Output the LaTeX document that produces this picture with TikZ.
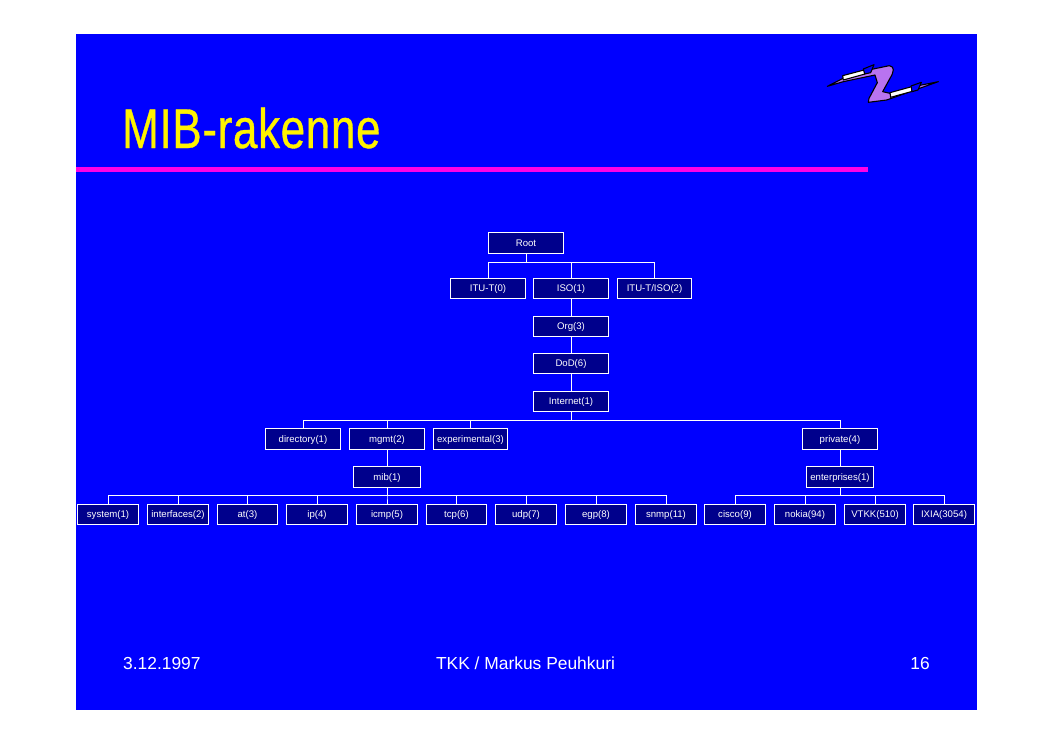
\documentclass[tikz,border=0pt]{standalone}
\usepackage{fontspec}
\setmainfont{Liberation Sans}
\newfontfamily\titlefont[FakeStretch=0.785,FakeBold=0.6,LetterSpace=1.2]{Liberation Sans}
\definecolor{slideblue}{RGB}{0,0,255}
\definecolor{boxblue}{RGB}{0,0,140}
\definecolor{rulepink}{RGB}{255,0,230}
\definecolor{logopurple}{RGB}{185,115,240}
\tikzset{
	mibbox/.style={draw=white, line width=0.9pt, fill=boxblue, text=white, font=\fontsize{9.6}{11}\selectfont, minimum height=20.5pt, inner sep=0pt, text height=8pt, text depth=2pt},
	widebox/.style={mibbox, minimum width=74.5pt},
	leafbox/.style={mibbox, minimum width=60.5pt},
	midbox/.style={mibbox, minimum width=66.5pt},
	mibline/.style={draw=white, line width=0.9pt},
	footer/.style={text=white, font=\fontsize{17.4}{20}\selectfont, inner sep=0pt},
}
\begin{document}
\begin{tikzpicture}[x=1pt, y=-1pt]
	\useasboundingbox (0,0) rectangle (1053,744);

	% Slide
	\fill[slideblue] (76,34) rectangle (977,710);
	\fill[rulepink] (76,167) rectangle (868,172);
	\node[text=yellow, font=\titlefont\fontsize{56}{60}\selectfont, anchor=base west, inner sep=0pt] (title) at (122,148) {MIB-rakenne};

	% Logo
	\begin{scope}[shift={(800,40)}, scale=1/3, line width=1.1pt, line join=round]
		\draw[fill=logopurple] (82,139) -- (135,112) -- (215,88) -- (268,77) .. controls (285,80) and (282,95) .. (270,115) -- (248,155) -- (270,160) -- (365,135) -- (415,125) -- (260,180) -- (205,187) -- (207,175) -- (232,128) -- (225,105) -- (130,125) -- cycle;
		\draw[fill=white] (128,107) -- (192,90) -- (195,102) -- (130,120) -- cycle;
		\draw[fill=slideblue] (190,87) -- (222,74) -- (212,98) -- (194,102) -- cycle;
		\draw[fill=white] (270,158) -- (335,140) -- (337,154) -- (272,172) -- cycle;
		\draw[fill=slideblue] (333,138) -- (364,127) -- (354,150) -- (336,155) -- cycle;
	\end{scope}

	% Root
	\node[widebox] (root) at (526,243) {Root};

	% Top level
	\node[widebox] (itut) at (488,288.5) {ITU-T(0)};
	\node[widebox] (iso) at (571,288.5) {ISO(1)};
	\node[widebox] (ituiso) at (654.5,288.5) {ITU-T/ISO(2)};
	\draw[mibline] (root.south) -- ++(0,9) -| (itut.north);
	\draw[mibline] (root.south) -- ++(0,9) -| (iso.north);
	\draw[mibline] (root.south) -- ++(0,9) -| (ituiso.north);

	% Org, DoD, Internet
	\node[widebox] (org) at (571,326.5) {Org(3)};
	\node[widebox] (dod) at (571,363.5) {DoD(6)};
	\node[widebox] (internet) at (571,401.5) {Internet(1)};
	\draw[mibline] (iso) -- (org);
	\draw[mibline] (org) -- (dod);
	\draw[mibline] (dod) -- (internet);

	% Internet subtree
	\node[widebox] (directory) at (303,439) {directory(1)};
	\node[widebox] (mgmt) at (387,439) {mgmt(2)};
	\node[widebox] (experimental) at (470.5,439) {experimental(3)};
	\node[widebox] (private) at (840,439) {private(4)};
	\draw[mibline] (internet.south) -- ++(0,8) -| (directory.north);
	\draw[mibline] (internet.south) -- ++(0,8) -| (mgmt.north);
	\draw[mibline] (internet.south) -- ++(0,8) -| (experimental.north);
	\draw[mibline] (internet.south) -- ++(0,8) -| (private.north);

	% mib and enterprises
	\node[midbox] (mib) at (387,477) {mib(1)};
	\node[midbox] (enterprises) at (840,477) {enterprises(1)};
	\draw[mibline] (mgmt) -- (mib);
	\draw[mibline] (private) -- (enterprises);

	% mib objects
	\node[leafbox] (system) at (108,514.5) {system(1)};
	\node[leafbox] (interfaces) at (178,514.5) {interfaces(2)};
	\node[leafbox] (at) at (247.5,514.5) {at(3)};
	\node[leafbox] (ip) at (317,514.5) {ip(4)};
	\node[leafbox] (icmp) at (387,514.5) {icmp(5)};
	\node[leafbox] (tcp) at (456.5,514.5) {tcp(6)};
	\node[leafbox] (udp) at (526,514.5) {udp(7)};
	\node[leafbox] (egp) at (596,514.5) {egp(8)};
	\node[leafbox] (snmp) at (666,514.5) {snmp(11)};
	\draw[mibline] (mib.south) -- ++(0,7.5) -| (system.north);
	\draw[mibline] (mib.south) -- ++(0,7.5) -| (interfaces.north);
	\draw[mibline] (mib.south) -- ++(0,7.5) -| (at.north);
	\draw[mibline] (mib.south) -- ++(0,7.5) -| (ip.north);
	\draw[mibline] (mib.south) -- ++(0,7.5) -| (icmp.north);
	\draw[mibline] (mib.south) -- ++(0,7.5) -| (tcp.north);
	\draw[mibline] (mib.south) -- ++(0,7.5) -| (udp.north);
	\draw[mibline] (mib.south) -- ++(0,7.5) -| (egp.north);
	\draw[mibline] (mib.south) -- ++(0,7.5) -| (snmp.north);

	% enterprises
	\node[leafbox] (cisco) at (735,514.5) {cisco(9)};
	\node[leafbox] (nokia) at (805,514.5) {nokia(94)};
	\node[leafbox] (vtkk) at (875,514.5) {VTKK(510)};
	\node[leafbox] (ixia) at (944,514.5) {IXIA(3054)};
	\draw[mibline] (enterprises.south) -- ++(0,7.5) -| (cisco.north);
	\draw[mibline] (enterprises.south) -- ++(0,7.5) -| (nokia.north);
	\draw[mibline] (enterprises.south) -- ++(0,7.5) -| (vtkk.north);
	\draw[mibline] (enterprises.south) -- ++(0,7.5) -| (ixia.north);

	% Footer
	\node[footer, anchor=base west] (date) at (123,669) {3.12.1997};
	\node[footer, anchor=base] (author) at (525.5,669) {TKK / Markus Peuhkuri};
	\node[footer, anchor=base east] (page) at (930,669) {16};
\end{tikzpicture}
\end{document}
